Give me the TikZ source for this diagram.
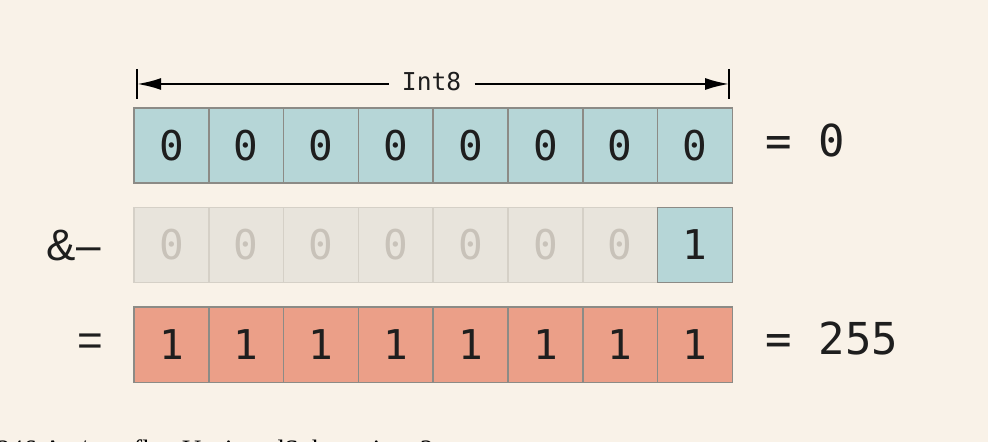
\documentclass[tikz,border=0pt]{standalone}
\usepackage{fontspec}
\setmainfont{Liberation Serif}
\setsansfont{Liberation Sans}
\setmonofont{DejaVu Sans Mono}
\usepackage{tikz}
\usetikzlibrary{positioning,arrows.meta}
\definecolor{paper}{HTML}{F9F2E8}
\definecolor{tealcell}{HTML}{B6D6D7}
\definecolor{salmoncell}{HTML}{EB9F88}
\definecolor{fadecell}{HTML}{E8E4DC}
\definecolor{fadeline}{HTML}{D5D0C7}
\definecolor{fadedigit}{HTML}{C8C2B9}
\definecolor{cellline}{HTML}{8C8B86}
\definecolor{ink}{HTML}{1E1E1E}
\tikzstyle{bitTL} = [rectangle, draw=cellline, line width=0.8pt, fill=tealcell, text=ink, minimum width=37.4pt, minimum height=37.5pt, inner sep=0pt, font=\fontsize{20.5}{20.5}\selectfont\ttfamily]
\tikzstyle{bitSL} = [bitTL, fill=salmoncell]
\tikzstyle{bitGR} = [bitTL, draw=fadeline, fill=fadecell, text=fadedigit]
\tikzstyle{opLabel} = [inner sep=0pt, text=ink, font=\fontsize{22}{22}\selectfont\sffamily]
\tikzstyle{valLabel} = [inner sep=0pt, text=ink, font=\fontsize{22}{22}\selectfont\ttfamily]
\tikzstyle{line} = [draw, line width=1pt, -{Latex[length=12pt,width=6pt]}]
\tikzstyle{endTick} = [draw, line width=1pt]

\begin{document}
\begin{tikzpicture}[node distance = 37.4pt, auto]
  % fondo
  \useasboundingbox (0,0) rectangle (494pt,-221pt);
  \fill [paper] (0,0) rectangle (494pt,-221pt);
  \clip (0,0) rectangle (494pt,-221pt);

  % nodes
  \node [bitTL] (a1) at (85.7pt,-72.9pt) {0};
  \node [bitTL, right of = a1] (a2) {0};
  \node [bitTL, right of = a2] (a3) {0};
  \node [bitTL, right of = a3] (a4) {0};
  \node [bitTL, right of = a4] (a5) {0};
  \node [bitTL, right of = a5] (a6) {0};
  \node [bitTL, right of = a6] (a7) {0};
  \node [bitTL, right of = a7] (a8) {0};

  \node [bitGR, below of = a1, node distance = 49.6pt] (b1) {0};
  \node [bitGR, right of = b1] (b2) {0};
  \node [bitGR, right of = b2] (b3) {0};
  \node [bitGR, right of = b3] (b4) {0};
  \node [bitGR, right of = b4] (b5) {0};
  \node [bitGR, right of = b5] (b6) {0};
  \node [bitGR, right of = b6] (b7) {0};
  \node [bitTL, right of = b7] (b8) {1};

  \node [bitSL, below of = b1, node distance = 49.9pt] (c1) {1};
  \node [bitSL, right of = c1] (c2) {1};
  \node [bitSL, right of = c2] (c3) {1};
  \node [bitSL, right of = c3] (c4) {1};
  \node [bitSL, right of = c4] (c5) {1};
  \node [bitSL, right of = c5] (c6) {1};
  \node [bitSL, right of = c6] (c7) {1};
  \node [bitSL, right of = c7] (c8) {1};

  % etiquetas
  \node [opLabel, left = 16pt of b1] (opAnd) {\&–};
  \node [opLabel, left = 15pt of c1] (opEq) {=};
  \node [valLabel, right = 16pt of a8, yshift=2.5pt] (valA) {= 0};
  \node [valLabel, right = 16pt of c8, yshift=3pt] (valC) {= 255};

  % ancho
  \node [inner ysep=0pt, inner xsep=6.5pt, text=ink, font=\fontsize{12.3}{12.3}\selectfont\ttfamily] (int8) at (215.8pt,-40.9pt) {Int8};
  \coordinate (leftEnd) at (68.6pt,-42pt);
  \coordinate (rightEnd) at (364.5pt,-42pt);
  \path [line] (int8.west |- leftEnd) -- (leftEnd);
  \path [line] (int8.east |- rightEnd) -- (rightEnd);
  \path [endTick] ([yshift=7.5pt]leftEnd) -- ([yshift=-7.5pt]leftEnd);
  \path [endTick] ([yshift=7.5pt]rightEnd) -- ([yshift=-7.5pt]rightEnd);

  % pie cortado
  \node [anchor=base west, inner sep=0pt, font=\fontsize{13.3}{13.3}\selectfont] (caption) at (-1.8pt,-229pt) {246 Art/overflowUnsignedSubtraction\_2x.png};
\end{tikzpicture}
\end{document}
